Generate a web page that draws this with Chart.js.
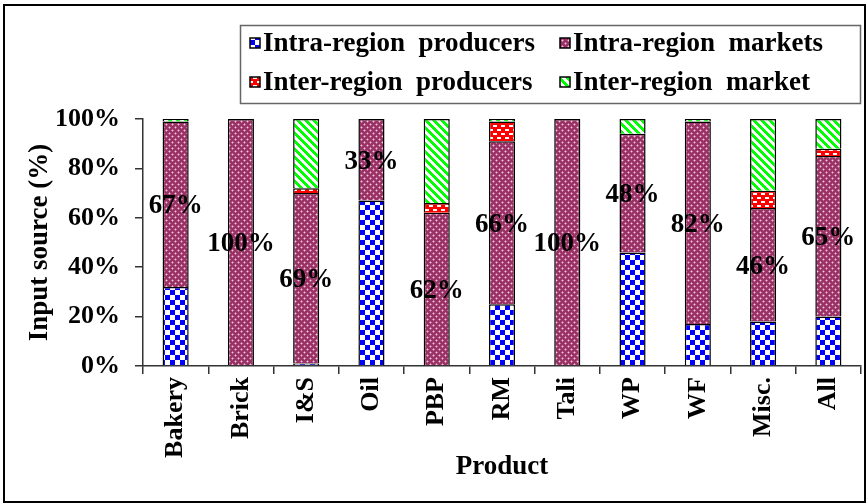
<!DOCTYPE html>
<html>
<head>
<meta charset="utf-8">
<title>Input source by product</title>
<script src="https://cdn.jsdelivr.net/npm/chart.js@4"></script>
<style>
  html, body { margin: 0; padding: 0; background: #fff; }
  #wrap  { position: relative; width: 868px; height: 504px; overflow: hidden; }
  #frame { position: absolute; left: 3px; top: 4px; width: 863px; height: 499px;
           border: 2.5px solid #000; box-sizing: border-box; pointer-events: none; }
  canvas { position: absolute; left: 0; top: 0; }
</style>
</head>
<body>
<div id="wrap">
  <canvas id="chart" width="868" height="504"></canvas>
  <div id="frame"></div>
</div>
<script>
  const products       = ['Bakery', 'Brick', 'I&S', 'Oil', 'PBP', 'RM', 'Tali', 'WP', 'WF', 'Misc.', 'All'];
  const intraProducers = [32,   0,  1, 67,  0, 25,   0, 46, 17, 18, 20];
  const intraMarkets   = [67, 100, 69, 33, 62, 66, 100, 48, 82, 46, 65];
  const interProducers = [ 0,   0,  2,  0,  4,  8,   0,  0,  0,  7,  3];
  const interMarket    = [ 1,   0, 28,  0, 34,  1,   0,  6,  1, 29, 12];
  const yTicks         = [0, 20, 40, 60, 80, 100];

  const SERIF = '"Liberation Serif", "Times New Roman", serif';

  // small repeating fills, built once on scratch canvases
  function tile(w, h, paint) {
    const c = document.createElement('canvas');
    c.width = w; c.height = h;
    const g = c.getContext('2d');
    paint(g);
    return g.createPattern(c, 'repeat');
  }

  const checkerBlue = tile(10, 10, g => {
    g.fillStyle = '#fff';    g.fillRect(0, 0, 10, 10);
    g.fillStyle = '#0000ff'; g.fillRect(0, 0, 5, 5); g.fillRect(5, 5, 5, 5);
  });

  const maroonDots = tile(6, 6, g => {
    g.fillStyle = '#993366'; g.fillRect(0, 0, 6, 6);
    g.fillStyle = '#c7709c';
    [[1, 0], [0, 1], [2, 1], [1, 2], [4, 3], [3, 4], [5, 4], [4, 5]].forEach(([x, y]) => g.fillRect(x, y, 1, 1));
    g.fillStyle = '#f2d0e2';
    g.fillRect(1, 1, 1, 1); g.fillRect(4, 4, 1, 1);
  });

  const redDashes = tile(8, 8, g => {
    g.fillStyle = '#ff0000'; g.fillRect(0, 0, 8, 8);
    g.fillStyle = '#fff';
    g.fillRect(1, 1, 4, 2);
    g.fillRect(5, 5, 3, 2); g.fillRect(0, 5, 1, 2);
  });

  const greenStripes = tile(8, 8, g => {
    for (let y = 0; y < 8; y++) {
      for (let x = 0; x < 8; x++) {
        g.fillStyle = ((x - y + 16) % 8) < 4 ? '#00ff00' : '#fff';
        g.fillRect(x, y, 1, 1);
      }
    }
  });

  // percentage printed in the middle of each intra-region markets segment
  const segmentLabels = {
    id: 'segmentLabels',
    afterDatasetsDraw(chart) {
      const ctx = chart.ctx;
      const meta = chart.getDatasetMeta(1);
      ctx.save();
      ctx.font = 'bold 27px ' + SERIF;
      ctx.fillStyle = '#000';
      ctx.textAlign = 'center';
      ctx.textBaseline = 'middle';
      meta.data.forEach((bar, i) => {
        const v = intraMarkets[i];
        if (!v) return;
        ctx.fillText(v + '%', bar.x, (bar.y + bar.base) / 2 + 2);
      });
      ctx.restore();
    }
  };

  // two-column legend inside a thin box above the plot
  const boxLegend = {
    id: 'boxLegend',
    afterDraw(chart) {
      const ctx = chart.ctx;
      const cols = [250, 560];
      const rows = [44, 83];
      ctx.save();
      ctx.strokeStyle = '#666';
      ctx.lineWidth = 1.5;
      ctx.strokeRect(240.5, 25.5, 620, 78);
      ctx.font = 'bold 27px ' + SERIF;
      ctx.textBaseline = 'middle';
      ctx.textAlign = 'left';
      chart.data.datasets.forEach((ds, i) => {
        const x = cols[i % 2];
        const y = rows[Math.floor(i / 2)];
        ctx.fillStyle = ds.backgroundColor;
        ctx.fillRect(x, y - 6, 10, 10);
        ctx.strokeStyle = '#000';
        ctx.lineWidth = 1.5;
        ctx.strokeRect(x, y - 6, 10, 10);
        ctx.fillStyle = '#000';
        ctx.fillText(ds.label, x + 13, y);
      });
      ctx.restore();
    }
  };

  const barStyle = { borderColor: '#000', borderWidth: 1.5, categoryPercentage: 1, barPercentage: 0.4 };

  new Chart(document.getElementById('chart'), {
    type: 'bar',
    data: {
      labels: products,
      datasets: [
        { label: 'Intra-region  producers', data: intraProducers, backgroundColor: checkerBlue,  ...barStyle },
        { label: 'Intra-region  markets',   data: intraMarkets,   backgroundColor: maroonDots,   ...barStyle },
        { label: 'Inter-region  producers', data: interProducers, backgroundColor: redDashes,    ...barStyle },
        { label: 'Inter-region  market',    data: interMarket,    backgroundColor: greenStripes, ...barStyle }
      ]
    },
    options: {
      responsive: false,
      animation: false,
      devicePixelRatio: 1,
      layout: { padding: { top: 119, right: 7, left: 0, bottom: 0 } },
      plugins: { legend: { display: false }, tooltip: { enabled: false } },
      scales: {
        x: {
          stacked: true,
          grid: { drawOnChartArea: false, tickLength: 8, color: '#333', lineWidth: 1.5, offset: true },
          border: { color: '#333', width: 1.5 },
          ticks: { color: '#000', font: { family: SERIF, size: 26, weight: 'bold' },
                   minRotation: 90, maxRotation: 90, padding: 3, autoSkip: false },
          title: { display: true, text: 'Product', color: '#000',
                   font: { family: SERIF, size: 27, weight: 'bold' }, padding: { top: 0, bottom: 21 } },
          afterFit: s => { s.height = 138; s.paddingLeft = 0; s.paddingRight = 0; }
        },
        y: {
          stacked: true,
          min: 0,
          max: 100,
          grid: { drawOnChartArea: false, tickLength: 8, color: '#333', lineWidth: 1.5 },
          border: { color: '#333', width: 1.5 },
          afterBuildTicks: s => { s.ticks = yTicks.map(v => ({ value: v })); },
          ticks: { color: '#000', font: { family: SERIF, size: 26, weight: 'bold' },
                   padding: 15, callback: v => v + '%' },
          title: { display: true, text: 'Input source (%)', color: '#000',
                   font: { family: SERIF, size: 27, weight: 'bold' }, padding: { top: 24, bottom: 0 } },
          afterFit: s => { s.width = 143; }
        }
      }
    },
    plugins: [segmentLabels, boxLegend]
  });
</script>
</body>
</html>
